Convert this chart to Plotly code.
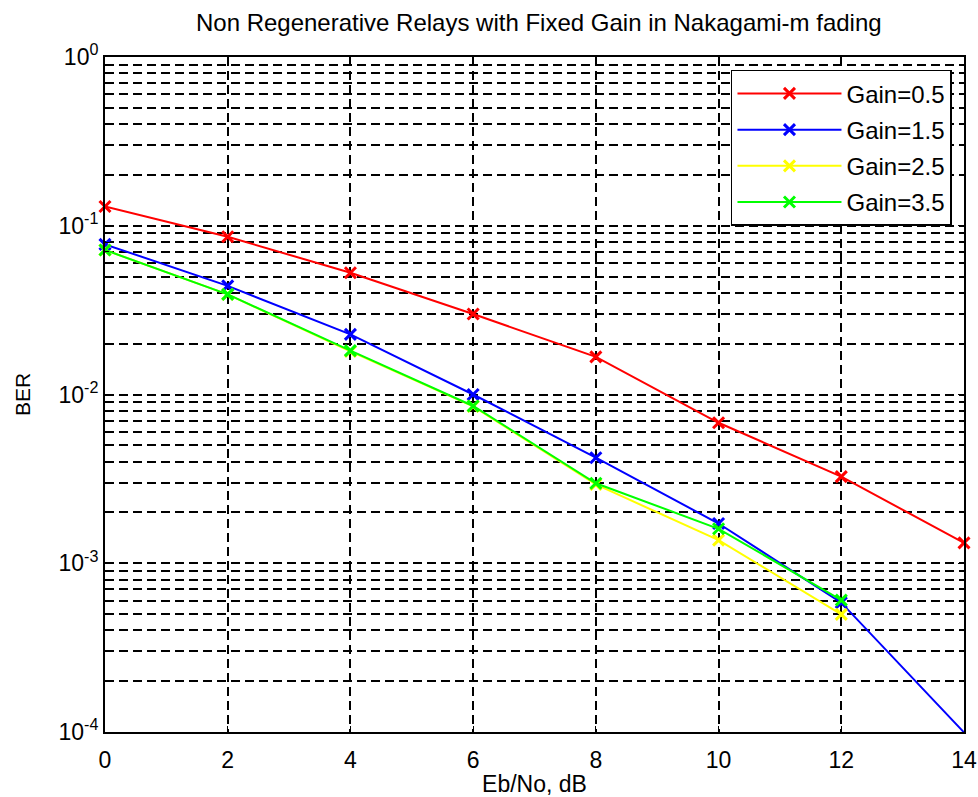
import plotly.graph_objects as go

ebno = [0, 2, 4, 6, 8, 10, 12, 14]
ber_g05 = [0.13, 0.086, 0.0527, 0.030, 0.0167, 0.0068, 0.00326, 0.00132]
ber_g15 = [0.0776, 0.0440, 0.0227, 0.0100, 0.00422, 0.00172, 0.000584, 0.0000995]
ber_g25 = [0.0718, 0.0392, 0.0180, 0.0085, 0.00293, 0.00137, 0.000498]
ber_g35 = [0.0718, 0.0392, 0.0182, 0.00855, 0.00298, 0.00160, 0.000605]

series = [
    ("Gain=0.5", ber_g05, "#ff0000"),
    ("Gain=1.5", ber_g15, "#0000ff"),
    ("Gain=2.5", ber_g25, "#ffff00"),
    ("Gain=3.5", ber_g35, "#00ff00"),
]

x_ticks = [0, 2, 4, 6, 8, 10, 12, 14]
y_major = [1e-4, 1e-3, 1e-2, 1e-1, 1e0]
y_major_text = ["10<sup>-4</sup>", "10<sup>-3</sup>", "10<sup>-2</sup>", "10<sup>-1</sup>", "10<sup>0</sup>"]
y_minor = [m * 10 ** e for e in (-4, -3, -2, -1) for m in range(2, 10)]

fig = go.Figure()
for i, (name, ys, col) in enumerate(series):
    fig.add_trace(go.Scatter(
        x=ebno[:len(ys)], y=ys, name=name, mode="lines+markers",
        legendgroup=f"g{i}",
        line=dict(color=col, width=2),
        marker=dict(symbol="x-thin", size=11, line=dict(color=col, width=3), color=col),
        cliponaxis=False,
    ))

font = "Liberation Sans, Arial, sans-serif"
dash = "9px,5px"
fig.update_layout(
    width=978, height=797,
    margin=dict(l=105, r=14, t=57, b=65, autoexpand=False),
    paper_bgcolor="white", plot_bgcolor="white",
    font=dict(family=font, size=23, color="black"),
    title=dict(text="Non Regenerative Relays with Fixed Gain in Nakagami-m fading",
               x=0.505, xanchor="center", xref="paper", y=1 - 23 / 797, yanchor="middle",
               font=dict(size=24, family=font, color="black")),
    showlegend=True,
    legend=dict(x=0.986, xanchor="right", y=0.981, yanchor="top",
                bgcolor="white", bordercolor="black", borderwidth=1.5,
                font=dict(size=24, family=font), tracegroupgap=2,
                traceorder="grouped", itemwidth=104),
)
fig.update_xaxes(
    range=[0, 14], tickvals=x_ticks, ticks="inside", ticklen=6, tickcolor="black",
    showline=True, linecolor="black", linewidth=2, mirror="allticks",
    showgrid=True, gridcolor="black", griddash=dash, gridwidth=1.5,
    zeroline=False, tickfont=dict(size=23), automargin=False, ticklabelstandoff=6,
    title=dict(text="Eb/No, dB", font=dict(size=23), standoff=8),
)
fig.update_yaxes(
    type="log", range=[-4, 0], tickvals=y_major, ticktext=y_major_text,
    ticks="inside", ticklen=6, tickcolor="black", automargin=False,
    showline=True, linecolor="black", linewidth=2, mirror="allticks",
    showgrid=True, gridcolor="black", griddash=dash, gridwidth=1.5,
    zeroline=False, tickfont=dict(size=23),
    minor=dict(tickvals=y_minor, ticks="inside", ticklen=4, tickcolor="black",
               showgrid=True, gridcolor="black", griddash=dash, gridwidth=1.5),
    title=dict(text="BER", font=dict(size=21), standoff=22),
)
fig.write_html("out.html")
